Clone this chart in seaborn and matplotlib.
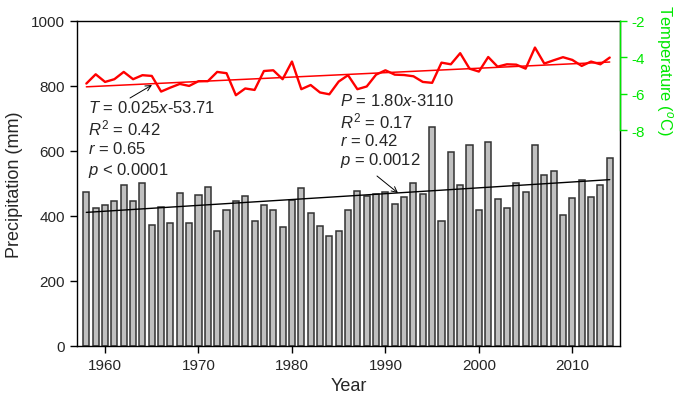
import numpy as np
import pandas as pd
import matplotlib
matplotlib.use("Agg")
import matplotlib.pyplot as plt
import seaborn as sns

# ---------------- data ----------------
years = list(range(1958, 2015))
precip = [473, 424, 435, 445, 495, 445, 503, 373, 427, 377,
          471, 379, 466, 489, 354, 418, 447, 462, 384, 435,
          418, 366, 449, 485, 410, 368, 339, 353, 419, 478,
          463, 468, 474, 438, 458, 503, 468, 675, 384, 596,
          495, 620, 418, 627, 453, 425, 502, 474, 618, 525,
          538, 402, 456, 510, 457, 494, 577]
temp = [-5.44, -4.93, -5.35, -5.20, -4.80, -5.20, -4.98, -5.02, -5.88, -5.66,
        -5.46, -5.57, -5.31, -5.31, -4.80, -4.87, -6.08, -5.71, -5.79, -4.75,
        -4.71, -5.20, -4.23, -5.75, -5.52, -5.93, -6.03, -5.33, -4.98, -5.75,
        -5.60, -4.95, -4.71, -4.95, -4.97, -5.04, -5.35, -5.40, -4.29, -4.38,
        -3.77, -4.62, -4.78, -3.98, -4.51, -4.38, -4.40, -4.62, -3.46, -4.34,
        -4.16, -3.99, -4.14, -4.47, -4.23, -4.38, -4.01]
xticks = [1960, 1970, 1980, 1990, 2000, 2010]
yticks_p = [0, 200, 400, 600, 800, 1000]
yticks_t = [-8, -6, -4, -2]
t_stats = [r"$\mathit{T}$ = 0.025$\mathit{x}$-53.71", r"$\mathit{R}^2$ = 0.42",
           r"$\mathit{r}$ = 0.65", r"$\mathit{p}$ < 0.0001"]
p_stats = [r"$\mathit{P}$ = 1.80$\mathit{x}$-3110", r"$\mathit{R}^2$ = 0.17",
           r"$\mathit{r}$ = 0.42", r"$\mathit{p}$ = 0.0012"]

df = pd.DataFrame({"year": years, "precip": precip, "temp": temp})

# ---------------- style ----------------
sns.set_style("ticks")
plt.rcParams["font.family"] = ["Liberation Sans", "DejaVu Sans"]
plt.rcParams["mathtext.fontset"] = "custom"
plt.rcParams["mathtext.rm"] = "Liberation Sans"
plt.rcParams["mathtext.it"] = "Liberation Sans:italic"
plt.rcParams["mathtext.bf"] = "Liberation Sans:bold"

W, H = 685, 410
fig = plt.figure(figsize=(W / 100, H / 100), dpi=100)
ax = fig.add_axes([77 / W, 1 - 347 / H, 543 / W, 325 / H])

sns.barplot(data=df, x="year", y="precip", native_scale=True, width=0.65,
            color="#c0c0c0", edgecolor="#333333", linewidth=1.1,
            saturation=1, errorbar=None, ax=ax)

cp = np.polyfit(years, precip, 1)
sns.lineplot(x=years, y=np.polyval(cp, years), color="black", linewidth=1.0, ax=ax)

ax.set_xlim(1957.0, 2015.1)
ax.set_ylim(0, 1000)
ax.set_xticks(xticks)
ax.set_xticklabels([str(v) for v in xticks])
ax.set_yticks(yticks_p)
ax.tick_params(axis="both", labelsize=11, direction="out", length=5, width=1, color="black")
ax.set_xlabel("Year", fontsize=13)
ax.set_ylabel("Precipitation (mm)", fontsize=13, labelpad=6)
for s in ax.spines.values():
    s.set_color("black")
    s.set_linewidth(1.0)

# temperature on twin axis
ax2 = ax.twinx()
sns.lineplot(x=years, y=temp, color="red", linewidth=1.7, ax=ax2)
ct = np.polyfit(years, temp, 1)
sns.lineplot(x=years, y=np.polyval(ct, years), color="red", linewidth=1.1, ax=ax2)
ax2.set_ylim(-19.87, -2)
ax2.set_yticks(yticks_t)
ax2.set_yticklabels([str(v) for v in yticks_t])
green = "#00e800"
ax2.tick_params(axis="y", colors=green, labelsize=11, direction="out", length=5, width=1)
for k in ["top", "left", "bottom"]:
    ax2.spines[k].set_visible(False)
ax2.spines["right"].set_color(green)
ax2.spines["right"].set_linewidth(1.0)
ax2.spines["right"].set_bounds(-8, -2)
ax2.set_ylabel("")
fig.text(664 / W, 1 - 70 / H, r"Temperature ($^{o}$C)", rotation=270, color=green,
         ha="center", va="center", fontsize=12)

# annotations
for i, s in enumerate(t_stats):
    fig.text(88 / W, 1 - (108 + 20.7 * i) / H, s, fontsize=12, ha="left", va="center")
for i, s in enumerate(p_stats):
    fig.text(340 / W, 1 - (101 + 20 * i) / H, s, fontsize=12, ha="left", va="center")

ax.annotate("", xy=(152 / W, 1 - 86 / H), xytext=(130 / W, 1 - 99 / H),
            xycoords="figure fraction", textcoords="figure fraction",
            arrowprops=dict(arrowstyle="->", color="black", lw=0.7, shrinkA=0, shrinkB=0))
ax.annotate("", xy=(398 / W, 1 - 194 / H), xytext=(377 / W, 1 - 177 / H),
            xycoords="figure fraction", textcoords="figure fraction",
            arrowprops=dict(arrowstyle="->", color="black", lw=0.7, shrinkA=0, shrinkB=0))

fig.savefig("out.png", dpi=100)
